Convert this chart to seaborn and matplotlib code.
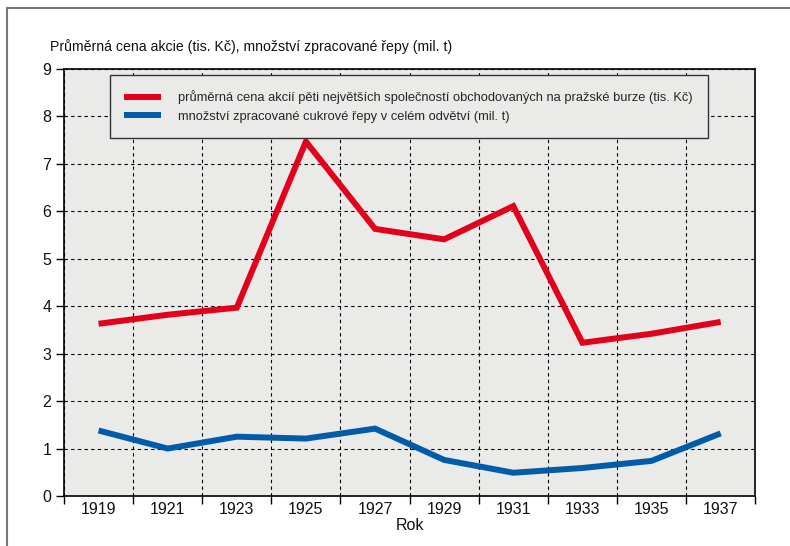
import numpy as np
import pandas as pd
import matplotlib
matplotlib.use("Agg")
import matplotlib.pyplot as plt
import seaborn as sns
from matplotlib.ticker import MultipleLocator

# data
years = [1919, 1921, 1923, 1925, 1927, 1929, 1931, 1933, 1935, 1937]
akcie = [3.63, 3.82, 3.97, 7.47, 5.63, 5.41, 6.11, 3.23, 3.42, 3.67]
repa = [1.38, 1.00, 1.25, 1.21, 1.42, 0.76, 0.49, 0.59, 0.74, 1.32]

lab_akcie = "průměrná cena akcií pěti největších společností obchodovaných na pražské burze (tis. Kč)"
lab_repa = "množství zpracované cukrové řepy v celém odvětví (mil. t)"
y_title = "Průměrná cena akcie (tis. Kč), množství zpracované řepy (mil. t)"

df = pd.DataFrame({
    "Rok": years * 2,
    "hodnota": akcie + repa,
    "serie": [lab_akcie] * len(years) + [lab_repa] * len(years),
})

sns.set_theme(style="white")
plt.rcParams["font.family"] = ["Liberation Sans Narrow", "Liberation Sans", "DejaVu Sans"]

fig = plt.figure(figsize=(7.9, 5.46), dpi=100)
ax = fig.add_axes([0.081, 0.0916, 0.875, 0.782])
ax.set_facecolor("#eaeae8")

sns.lineplot(data=df, x="Rok", y="hodnota", hue="serie",
             palette=["#e2001a", "#005ca8"], linewidth=4.3, ax=ax,
             solid_capstyle="butt", solid_joinstyle="miter")

ax.set_xlim(1918, 1938)
ax.set_ylim(0, 9)
ax.set_xticks(years)
ax.xaxis.set_minor_locator(MultipleLocator(2))
ax.yaxis.set_major_locator(MultipleLocator(1))
ax.tick_params(axis="x", which="major", length=0, labelsize=11.5, pad=4, colors="#111111")
ax.tick_params(axis="x", which="minor", length=6, width=1, direction="out", color="black", bottom=True)
ax.tick_params(axis="y", which="major", length=6, width=1, direction="out", color="black",
               labelsize=11.5, pad=3, left=True, labelcolor="#111111")
ax.grid(False)
ax.grid(True, which="minor", axis="x", color="black", linestyle=(0, (3, 3)), linewidth=0.8)
ax.grid(True, which="major", axis="y", color="black", linestyle=(0, (3, 3)), linewidth=0.8)
ax.set_axisbelow(True)
for s in ax.spines.values():
    s.set_color("black")
    s.set_linewidth(1.2)

ax.set_xlabel("Rok", fontsize=11.5, labelpad=1, color="#111111")
ax.set_ylabel("")
fig.text(50 / 790, 1 - 47 / 546, y_title, fontsize=10.2, va="center", ha="left", color="#111111")

leg = ax.legend(loc="upper left", bbox_to_anchor=(0.066, 0.985), borderaxespad=0,
                frameon=True, fontsize=9.3, handlelength=2.8, handletextpad=1.35,
                borderpad=1.15, labelspacing=0.5, fancybox=False, title=None)
leg.get_frame().set_facecolor("#eaeae8")
leg.get_frame().set_edgecolor("#333333")
leg.get_frame().set_linewidth(1.0)
leg.get_frame().set_alpha(1)

# frame around the figure (top and left edges)
fig.add_artist(plt.Line2D([7 / 790, 7 / 790], [0, 1 - 8 / 546], color="#777777", lw=1.5))
fig.add_artist(plt.Line2D([7 / 790, 1], [1 - 8 / 546, 1 - 8 / 546], color="#777777", lw=1.5))

fig.savefig("out.png", dpi=100)
